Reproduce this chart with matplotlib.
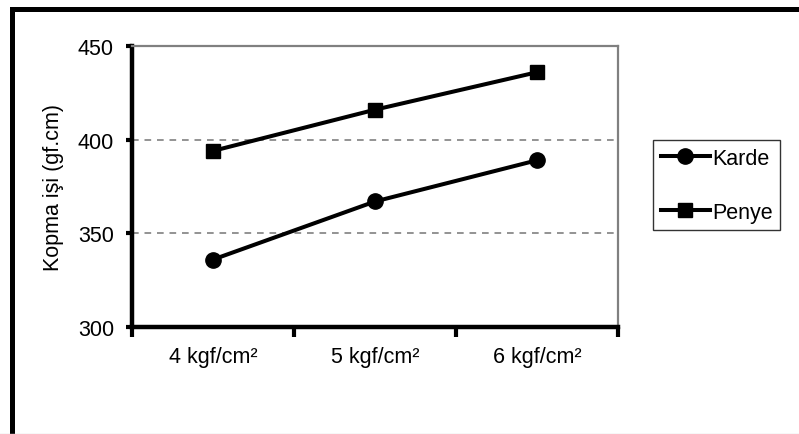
import matplotlib
matplotlib.use("Agg")
import matplotlib.pyplot as plt
from matplotlib.patches import Rectangle
from matplotlib.lines import Line2D

plt.rcParams["font.family"] = ["Liberation Sans", "DejaVu Sans"]

# data
categories = ["4 kgf/cm²", "5 kgf/cm²", "6 kgf/cm²"]
karde = [336, 367, 389]
penye = [394, 416, 436]
y_ticks = [300, 350, 400, 450]

W, H = 799, 435
fig = plt.figure(figsize=(W / 100, H / 100), dpi=100)
ax = fig.add_axes([132 / W, 1 - 328 / H, (618 - 132) / W, (328 - 47) / H])

x = range(len(categories))
ax.plot(x, karde, color="black", lw=2.9, marker="o", ms=11, label="Karde")
ax.plot(x, penye, color="black", lw=2.9, marker="s", ms=10, label="Penye")

ax.set_xlim(-0.5, len(categories) - 0.5)
ax.set_ylim(300, 450)
ax.set_yticks(y_ticks)
ax.set_yticklabels([str(v) for v in y_ticks], fontsize=15.5)

# category labels between boundary ticks, like Excel
ax.set_xticks([i - 0.5 for i in range(len(categories) + 1)])
ax.set_xticklabels([])
ax.set_xticks(list(x), minor=True)
ax.set_xticklabels(categories, minor=True, fontsize=15.5)
ax.tick_params(axis="x", which="major", length=7, width=3, direction="out")
ax.tick_params(axis="x", which="minor", length=0, pad=14)
ax.tick_params(axis="y", length=4, width=3, direction="out", pad=9)

ax.set_ylabel("Kopma işi (gf.cm)", fontsize=15.5, labelpad=10)

ax.yaxis.grid(True, color="#808080", linestyle=(0, (4, 3.5)), lw=1.2)
ax.set_axisbelow(True)
for side in ["left", "bottom"]:
    ax.spines[side].set_linewidth(3.2)
    ax.spines[side].set_color("black")
for side in ["top", "right"]:
    ax.spines[side].set_linewidth(1.6)
    ax.spines[side].set_color("#808080")

leg = ax.legend(loc="upper left", bbox_to_anchor=(653 / W, 1 - 141 / H),
                bbox_transform=fig.transFigure, fontsize=15.5, frameon=True,
                fancybox=False, edgecolor="black", handlelength=2.3,
                handletextpad=0.1, borderpad=0.35, labelspacing=1.55,
                borderaxespad=0)
leg.get_frame().set_linewidth(1.0)

# outer chart border (clipped on the right and bottom in the reference)
fig.patches.append(Rectangle((11.5 / W, -0.2), 1.3, 1.2 - 9.5 / H,
                             transform=fig.transFigure, fill=False,
                             edgecolor="black", lw=3.6, clip_on=False))
fig.lines.append(Line2D([0, 1], [0.5 / H, 0.5 / H], transform=fig.transFigure,
                        color="#d8d8d8", lw=1))

fig.savefig("out.png", dpi=100)
